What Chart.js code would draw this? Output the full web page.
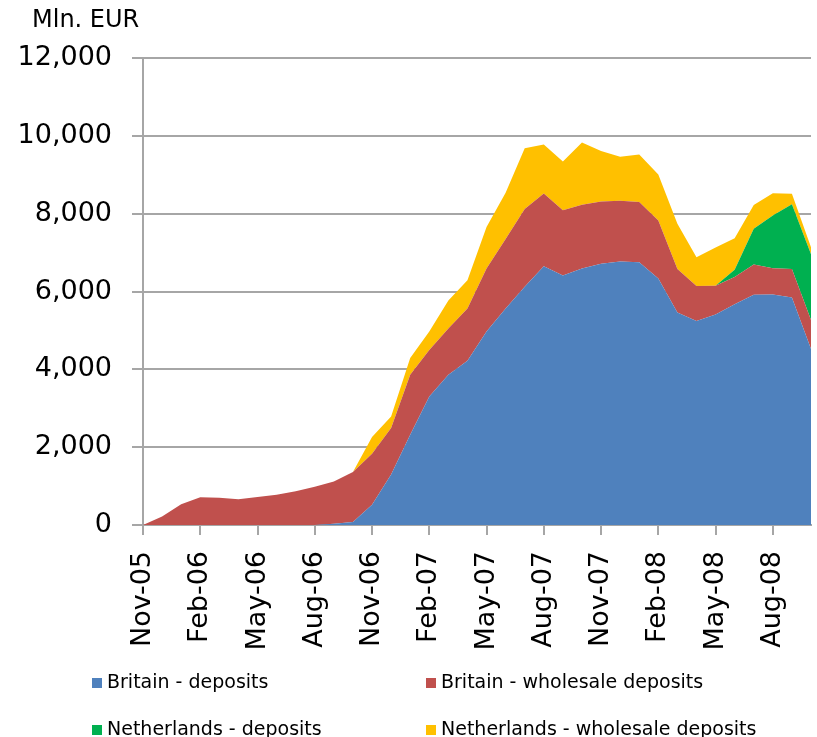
<!DOCTYPE html>
<html>
<head>
<meta charset="utf-8">
<script src="https://cdn.jsdelivr.net/npm/chart.js@4.4.0/dist/chart.umd.min.js"></script>
<style>
  html, body { margin: 0; padding: 0; background: #fff; overflow: hidden; }
  #wrap { position: relative; width: 817px; height: 737px; }
  #depositsChart { display: block; }
  #unit { position: absolute; left: 32px; top: 7px; font: 24px/24px "DejaVu Sans", sans-serif; color: #000; }
  .leg { position: absolute; font: 19px/19px "DejaVu Sans", sans-serif; color: #000; white-space: nowrap; }
  .sw { position: absolute; width: 10px; height: 10px; }
</style>
</head>
<body>
<div id="wrap">
  <canvas id="depositsChart" width="817" height="737"></canvas>
  <div id="unit">Mln. EUR</div>
  <div id="legend"></div>
</div>
<script>
// Monthly balances, Nov-05 .. Oct-08
const months = [
  'Nov-05', 'Dec-05', 'Jan-06', 'Feb-06', 'Mar-06', 'Apr-06', 'May-06', 'Jun-06', 'Jul-06',
  'Aug-06', 'Sep-06', 'Oct-06', 'Nov-06', 'Dec-06', 'Jan-07', 'Feb-07', 'Mar-07', 'Apr-07',
  'May-07', 'Jun-07', 'Jul-07', 'Aug-07', 'Sep-07', 'Oct-07', 'Nov-07', 'Dec-07', 'Jan-08',
  'Feb-08', 'Mar-08', 'Apr-08', 'May-08', 'Jun-08', 'Jul-08', 'Aug-08', 'Sep-08', 'Oct-08'
];

const britainDeposits = [
  0, 0, 0, 0, 0, 0, 0, 0, 0,
  0, 30, 75, 520, 1300, 2320, 3300, 3860, 4220,
  4970, 5560, 6120, 6650, 6410, 6590, 6710, 6770, 6750,
  6335, 5460, 5240, 5410, 5670, 5915, 5920, 5845, 4520
];

const britainWholesale = [
  0, 220, 530, 710, 700, 660, 720, 780, 870,
  980, 1090, 1285, 1310, 1190, 1540, 1200, 1190, 1340,
  1620, 1790, 2000, 1870, 1680, 1640, 1600, 1560, 1550,
  1490, 1120, 900, 740, 700, 780, 680, 735, 750
];

const netherlandsDeposits = [
  0, 0, 0, 0, 0, 0, 0, 0, 0,
  0, 0, 0, 0, 0, 0, 0, 0, 0,
  0, 0, 0, 0, 0, 0, 0, 0, 0,
  0, 0, 0, 0, 190, 915, 1350, 1660, 1690
];

const netherlandsWholesale = [
  0, 0, 0, 0, 0, 0, 0, 0, 0,
  0, 0, 0, 430, 300, 430, 470, 720, 730,
  1070, 1190, 1560, 1260, 1250, 1600, 1300, 1130, 1220,
  1180, 1160, 740, 980, 810, 610, 575, 270, 180
];

const yTicks = [0, 2000, 4000, 6000, 8000, 10000, 12000];

const seriesNames = [
  'Britain - deposits',
  'Britain - wholesale deposits',
  'Netherlands - deposits',
  'Netherlands - wholesale deposits'
];
const seriesColors = ['#4F81BD', '#C0504D', '#00B050', '#FFC000'];
const seriesData = [britainDeposits, britainWholesale, netherlandsDeposits, netherlandsWholesale];

const gridColor = '#a6a6a6';
const tickFont = { family: 'DejaVu Sans', size: 27 };

document.addEventListener('DOMContentLoaded', function() {
    const ctx = document.getElementById('depositsChart').getContext('2d');

    const datasets = seriesData.map((values, i) => ({
        label: seriesNames[i],
        data: values,
        backgroundColor: seriesColors[i],
        borderColor: seriesColors[i],
        borderWidth: 0,
        pointRadius: 0,
        tension: 0,
        fill: i === 0 ? 'origin' : '-1'
    }));

    new Chart(ctx, {
        type: 'line',
        data: { labels: months, datasets: datasets },
        options: {
            responsive: false,
            animation: false,
            layout: { padding: { top: 58, right: 6, bottom: 72, left: 0 } },
            plugins: {
                legend: { display: false },
                tooltip: { enabled: false }
            },
            scales: {
                x: {
                    offset: false,
                    border: { color: gridColor, width: 2 },
                    grid: {
                        drawOnChartArea: false,
                        tickLength: 10,
                        lineWidth: 2,
                        color: (c) => (c.index % 3 === 0 ? gridColor : 'rgba(0,0,0,0)')
                    },
                    ticks: {
                        autoSkip: false,
                        minRotation: 90,
                        maxRotation: 90,
                        padding: 16,
                        color: '#000',
                        font: tickFont,
                        callback: function(value, index) {
                            return index % 3 === 0 ? this.getLabelForValue(value) : '';
                        }
                    },
                    afterFit: (axis) => {
                        axis.height = 140;
                        // last month has no label, so no room is needed past the plot edge
                        axis.paddingLeft = 0;
                        axis.paddingRight = 0;
                    }
                },
                y: {
                    stacked: true,
                    min: yTicks[0],
                    max: yTicks[yTicks.length - 1],
                    border: { color: gridColor, width: 2 },
                    grid: { color: gridColor, lineWidth: 2, tickLength: 11 },
                    afterBuildTicks: (axis) => { axis.ticks = yTicks.map(v => ({ value: v })); },
                    ticks: {
                        padding: 20,
                        color: '#000',
                        font: tickFont,
                        callback: (v) => v.toLocaleString('en-US')
                    },
                    afterFit: (axis) => { axis.width = 143; }
                }
            }
        }
    });

    // Two-column legend under the axis labels
    const legend = document.getElementById('legend');
    const cols = [92, 426];
    const rows = [672, 719];
    seriesNames.forEach((name, i) => {
        const left = cols[i % 2];
        const top = rows[Math.floor(i / 2)];
        const sw = document.createElement('div');
        sw.className = 'sw';
        sw.style.left = left + 'px';
        sw.style.top = (top + 6) + 'px';
        sw.style.background = seriesColors[i];
        const label = document.createElement('div');
        label.className = 'leg';
        label.style.left = (left + 15) + 'px';
        label.style.top = top + 'px';
        label.textContent = name;
        legend.appendChild(sw);
        legend.appendChild(label);
    });
});
</script>
</body>
</html>
